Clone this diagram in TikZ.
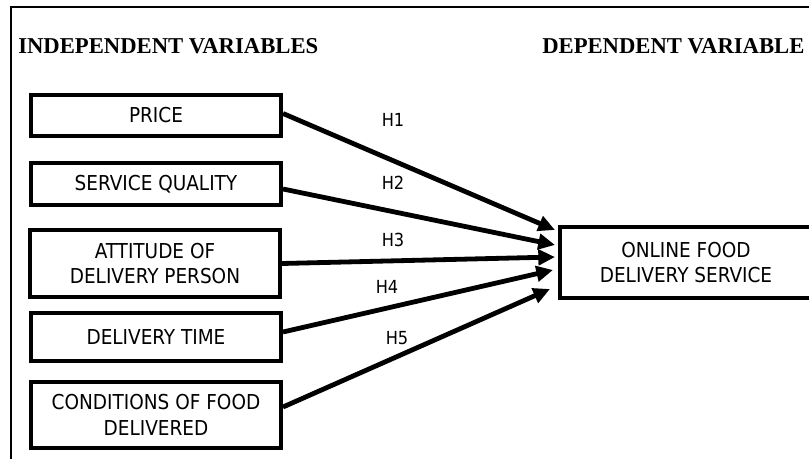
\documentclass[tikz,border=0pt]{standalone}
\usepackage{fontspec}
\setmainfont{Liberation Serif}
\newfontfamily\boxfont{DejaVu Sans Condensed}
\usetikzlibrary{arrows.meta}

\begin{document}
\begin{tikzpicture}[
			x=0.75pt, y=-0.75pt,
			var/.style={draw=black, line width=3pt, fill=white,
			inner sep=0pt, minimum width=187.5pt, align=center,
			font=\boxfont\fontsize{15.4}{19.3}\selectfont},
			link/.style={>={Triangle[length=12.5pt,width=11.5pt]},draw=black, line width=3.6pt, ->},
			hyp/.style={font=\boxfont\fontsize{13.5}{16}\selectfont},
			title/.style={anchor=base west, inner sep=0pt,
			font=\bfseries\fontsize{17}{20}\selectfont}
			]
			\useasboundingbox (0,0) rectangle (809,459);
			\clip (0,0) rectangle (809,459);
			% frame
			\draw[line width=1.2pt] (11,470) |- (830,7);
			\node[title] (indep) at (18,54) {INDEPENDENT VARIABLES};
			\node[title] (dep) at (542,54) {DEPENDENT VARIABLE};
			% variables
			\node[var, minimum height=30.75pt] (price) at (156,115.5) {PRICE};
			\node[var, minimum height=31.5pt] (service) at (156,184) {SERVICE QUALITY};
			\node[var, minimum height=50.25pt] (attitude) at (155,263.5) {ATTITUDE OF\\DELIVERY PERSON};
			\node[var, minimum height=36pt] (deltime) at (156,337) {DELIVERY TIME};
			\node[var, minimum height=49.5pt] (condition) at (156,415) {CONDITIONS OF FOOD\\DELIVERED};
			\node[var, minimum width=189pt, minimum height=53.25pt] (online) at (686,262.5) {ONLINE FOOD\\DELIVERY SERVICE};
			% arrows
			\draw[link] ([shift={(0,-2)}]price.east) -- ([shift={(-3,-32.5)}]online.west);
			\draw[link] ([shift={(0,5)}]service.east) -- ([shift={(-3,-17.5)}]online.west);
			\draw[link] (attitude.east) -- ([shift={(-3,-5.5)}]online.west);
			\draw[link] ([shift={(0,-5)}]deltime.east) -- ([shift={(-5,7.5)}]online.west);
			\draw[link] ([shift={(0,-8)}]condition.east) -- ([shift={(-8,26.5)}]online.west);
			\node[hyp] (h1) at (393,120) {H1};
			\node[hyp] (h2) at (393,183) {H2};
			\node[hyp] (h3) at (393,240) {H3};
			\node[hyp] (h4) at (387,287) {H4};
			\node[hyp] (h5) at (397,338) {H5};
		\end{tikzpicture}
\end{document}
